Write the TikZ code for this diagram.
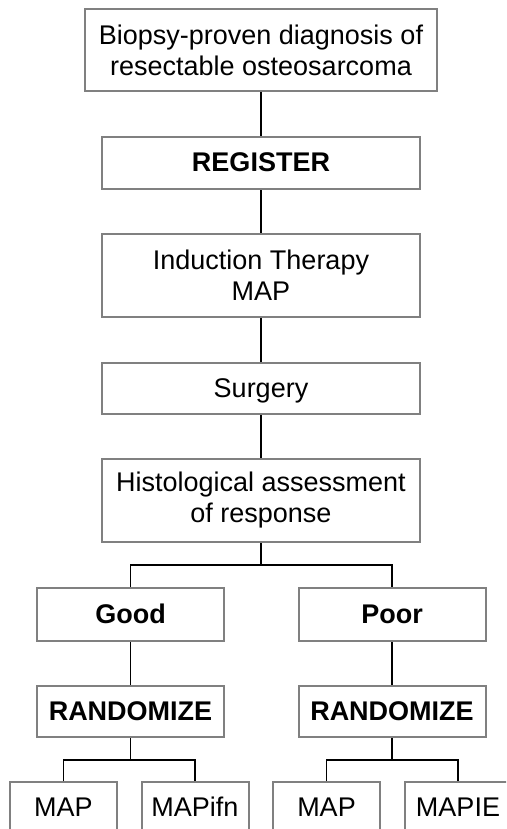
\documentclass[tikz,border=0pt]{standalone}
\usepackage{fontspec}
\setmainfont{Liberation Sans}
\definecolor{boxgray}{HTML}{808080}

\begin{document}
\begin{tikzpicture}[x=1pt,y=-1pt]
\tikzstyle{box}=[draw=boxgray,line width=2pt,fill=white,align=center,inner sep=0pt,font=\fontsize{27}{31}\selectfont]
\tikzstyle{line}=[text height=19.5pt,text depth=2pt]
\tikzstyle{wide}=[box,minimum width=318pt]
\tikzstyle{arm}=[box,line,minimum width=187pt,minimum height=53pt]
\tikzstyle{leaf}=[box,line,minimum width=107pt,minimum height=52pt]
\tikzstyle{link}=[draw,black,line width=1.9pt]
    \fill[white] (0,0) rectangle (506,829);
    \clip (0,0) rectangle (506,829);
    \node[box,minimum width=352pt,minimum height=82pt] (1) at (261,50) {Biopsy-proven diagnosis of\\resectable osteosarcoma};
    \node[wide,line,minimum height=52pt] (2) at (261,163) {\textbf{REGISTER}};
    \node[wide,minimum height=83pt] (3) at (261,275.5) {Induction Therapy\\MAP};
    \node[wide,line,minimum height=51pt] (4) at (261,388.5) {Surgery};
    \node[wide,minimum height=83pt] (5) at (261,500.5) {Histological assessment\\of response};
    \coordinate (s1) at (261,565);
    \node[arm] (6) at (130.5,614.5) {\textbf{Good}};
    \node[arm] (7) at (392,614.5) {\textbf{Poor}};
    \node[arm,minimum height=51pt] (8) at (130.5,711.5) {\textbf{RANDOMIZE}};
    \node[arm,minimum height=51pt] (9) at (392,711.5) {\textbf{RANDOMIZE}};
    \coordinate (s2) at (130.5,760);
    \coordinate (s3) at (392,760);
    \node[leaf] (10) at (63.5,808) {MAP};
    \node[leaf] (11) at (195,808) {MAPifn};
    \node[leaf] (12) at (326.5,808) {MAP};
    \node[leaf] (13) at (458,808) {MAPIE};
    \path (1) edge [link] (2);
    \path (2) edge [link] (3);
    \path (3) edge [link] (4);
    \path (4) edge [link] (5);
    \path (5) edge [link] (s1);
    \draw[link] (6.north) |- (s1) -| (7.north);
    \path (6) edge [link] (8);
    \path (7) edge [link] (9);
    \path (8) edge [link] (s2);
    \path (9) edge [link] (s3);
    \draw[link] (10.north) |- (s2) -| (11.north);
    \draw[link] (12.north) |- (s3) -| (13.north);
\end{tikzpicture}
\end{document}
